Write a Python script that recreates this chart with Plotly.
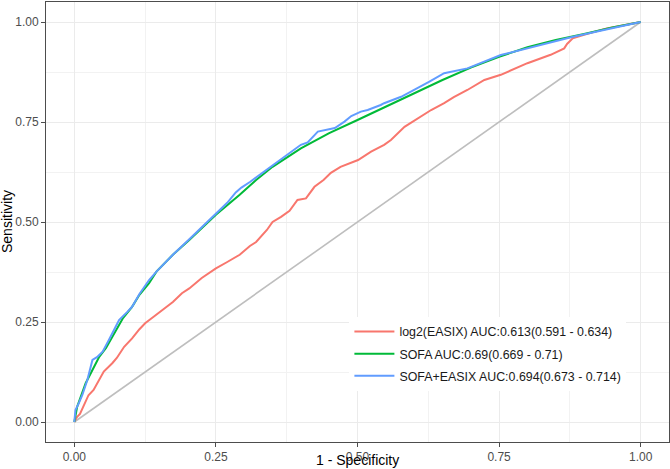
import plotly.graph_objects as go

# ---- data ----
easix_fpr = [0, 0.005, 0.010, 0.016, 0.025, 0.034, 0.044, 0.052, 0.067, 0.075, 0.088, 0.102,
             0.115, 0.125, 0.140, 0.155, 0.174, 0.190, 0.203, 0.225, 0.250, 0.270, 0.292, 0.310,
             0.321, 0.340, 0.350, 0.365, 0.380, 0.394, 0.409, 0.424, 0.440, 0.453, 0.470, 0.501,
             0.524, 0.547, 0.559, 0.583, 0.612, 0.630, 0.653, 0.670, 0.694, 0.724, 0.753, 0.780,
             0.800, 0.841, 0.865, 0.870, 0.880, 0.900, 0.940, 1.0]
easix_tpr = [0, 0.013, 0.020, 0.038, 0.067, 0.080, 0.105, 0.126, 0.147, 0.160, 0.188, 0.209,
             0.232, 0.247, 0.263, 0.280, 0.300, 0.322, 0.334, 0.360, 0.384, 0.400, 0.418, 0.440,
             0.450, 0.480, 0.500, 0.513, 0.528, 0.555, 0.559, 0.588, 0.605, 0.623, 0.638, 0.655,
             0.676, 0.693, 0.705, 0.738, 0.763, 0.780, 0.797, 0.812, 0.830, 0.855, 0.868, 0.884,
             0.897, 0.918, 0.934, 0.945, 0.959, 0.968, 0.984, 1.0]

sofa_fpr = [0, 0.005, 0.020, 0.044, 0.056, 0.073, 0.086, 0.102, 0.115, 0.132, 0.145, 0.174,
            0.203, 0.250, 0.292, 0.321, 0.350, 0.400, 0.450, 0.500, 0.550, 0.600, 0.650, 0.700,
            0.750, 0.800, 0.850, 0.900, 0.950, 1.0]
sofa_tpr = [0, 0.038, 0.097, 0.163, 0.185, 0.226, 0.260, 0.288, 0.318, 0.347, 0.376, 0.418,
            0.455, 0.518, 0.568, 0.605, 0.638, 0.684, 0.722, 0.755, 0.789, 0.822, 0.855, 0.886,
            0.913, 0.937, 0.955, 0.970, 0.986, 1.0]

comb_fpr = [0, 0.002, 0.008, 0.014, 0.023, 0.032, 0.040, 0.050, 0.061, 0.079, 0.094, 0.102,
            0.115, 0.132, 0.145, 0.174, 0.203, 0.250, 0.270, 0.285, 0.295, 0.310, 0.326, 0.344,
            0.365, 0.400, 0.412, 0.430, 0.460, 0.477, 0.489, 0.506, 0.518, 0.541, 0.547, 0.577,
            0.606, 0.627, 0.653, 0.665, 0.694, 0.753, 0.812, 0.877, 0.929, 1.0]
comb_tpr = [0, 0.030, 0.047, 0.067, 0.105, 0.155, 0.162, 0.176, 0.205, 0.255, 0.276, 0.288,
            0.320, 0.355, 0.376, 0.418, 0.457, 0.520, 0.548, 0.574, 0.586, 0.600, 0.617, 0.634,
            0.657, 0.693, 0.699, 0.726, 0.735, 0.751, 0.765, 0.776, 0.780, 0.7925, 0.797, 0.813,
            0.834, 0.851, 0.872, 0.876, 0.884, 0.9175, 0.938, 0.962, 0.978, 1.0]

names = ["log2(EASIX) AUC:0.613(0.591 - 0.634)",
         "SOFA AUC:0.69(0.669 - 0.71)",
         "SOFA+EASIX AUC:0.694(0.673 - 0.714)"]
colors = ["#F8766D", "#00BA38", "#619CFF"]
ref_line = [0, 1]

axis_ticks = [0, 0.25, 0.5, 0.75, 1.0]

FONT = "Liberation Sans, Arial, Helvetica, sans-serif"

fig = go.Figure()
fig.add_trace(go.Scatter(x=ref_line, y=ref_line, mode="lines",
                         line=dict(color="#BEBEBE", width=1.6), showlegend=False,
                         hoverinfo="skip"))
for fx, ty, nm, col in zip([easix_fpr, sofa_fpr, comb_fpr],
                           [easix_tpr, sofa_tpr, comb_tpr], names, colors):
    fig.add_trace(go.Scatter(x=fx, y=ty, mode="lines", name=nm, legendgroup=nm,
                             line=dict(color=col, width=2)))

axis_common = dict(
    range=[-0.05, 1.05], tickvals=axis_ticks, tickformat=".2f",
    showgrid=True, gridcolor="#EBEBEB", gridwidth=1,
    minor=dict(showgrid=True, gridcolor="#F2F2F2", gridwidth=0.6, dtick=0.125, tick0=0.125),
    zeroline=False, showline=True, mirror=True, linecolor="#4D4D4D", linewidth=1,
    ticks="outside", ticklen=4, tickcolor="#4D4D4D", tickwidth=1,
    tickfont=dict(family=FONT, size=12, color="#4D4D4D"),
)

fig.update_layout(
    width=670, height=469,
    margin=dict(l=46, r=1, t=2, b=27, autoexpand=False),
    paper_bgcolor="white", plot_bgcolor="white",
    xaxis=dict(axis_common, automargin=False),
    yaxis=dict(axis_common, automargin=False),
    font=dict(family=FONT),
    legend=dict(x=0.487, y=0.284, xanchor="left", yanchor="top",
                bgcolor="white", borderwidth=0, itemwidth=40,
                tracegroupgap=3,
                font=dict(family=FONT, size=12.4, color="#1A1A1A")),
    annotations=[
        dict(text="1 - Specificity", xref="paper", yref="paper", x=0.5, y=0,
             xanchor="center", yanchor="middle", yshift=-18, showarrow=False,
             font=dict(family=FONT, size=14, color="black")),
        dict(text="Sensitivity", xref="paper", yref="paper", x=0, y=0.5,
             xanchor="center", yanchor="middle", xshift=-39, textangle=-90,
             showarrow=False, font=dict(family=FONT, size=14, color="black")),
    ],
)

fig.write_html("out.html")
